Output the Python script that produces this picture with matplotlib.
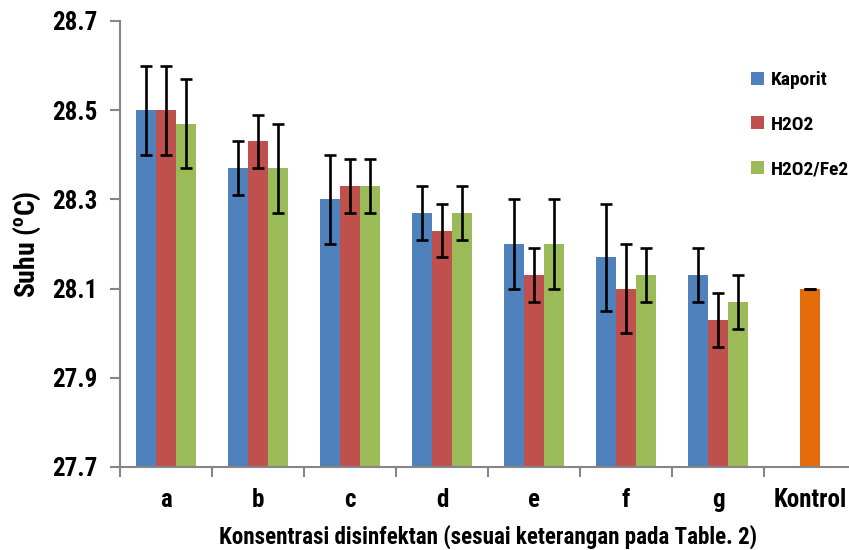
import matplotlib
matplotlib.use("Agg")
import matplotlib.pyplot as plt
import numpy as np
from matplotlib import font_manager

categories = ["a", "b", "c", "d", "e", "f", "g", "Kontrol"]
series_names = ["Kaporit", "H2O2", "H2O2/Fe2"]
kaporit = [28.50, 28.37, 28.30, 28.27, 28.20, 28.17, 28.13]
kaporit_err = [0.10, 0.06, 0.10, 0.06, 0.10, 0.12, 0.06]
h2o2 = [28.50, 28.43, 28.33, 28.23, 28.13, 28.10, 28.03]
h2o2_err = [0.10, 0.06, 0.06, 0.06, 0.06, 0.10, 0.06]
fe2 = [28.47, 28.37, 28.33, 28.27, 28.20, 28.13, 28.07]
fe2_err = [0.10, 0.10, 0.06, 0.06, 0.10, 0.06, 0.06]
kontrol = 28.10
kontrol_err = 0.0
yticks = [27.7, 27.9, 28.1, 28.3, 28.5, 28.7]

names = {f.name for f in font_manager.fontManager.ttflist}
fam = "Roboto Condensed" if "Roboto Condensed" in names else "DejaVu Sans"
plt.rcParams["font.family"] = [fam, "DejaVu Sans"]
plt.rcParams["font.stretch"] = "condensed"
plt.rcParams["mathtext.default"] = "regular"

colors = ["#4F81BD", "#C0504D", "#9BBB59"]
orange = "#E46C0A"
axis_col = "#868686"

fig = plt.figure(figsize=(8.49, 5.5), dpi=100)
ax = fig.add_axes([120/849, 1-467/550, 736/849, 446/550])

x = np.arange(7)
w = 0.22
ekw = dict(elinewidth=1.9, capthick=1.9, capsize=4.3, ecolor="black")
for i, (vals, errs) in enumerate([(kaporit, kaporit_err), (h2o2, h2o2_err), (fe2, fe2_err)]):
    ax.bar(x + (i-1)*w, np.array(vals) - 27.7, w, bottom=27.7, color=colors[i],
           label=series_names[i], yerr=errs, error_kw=ekw, zorder=2)
ax.bar([7], [kontrol - 27.7], w, bottom=27.7, color=orange, yerr=[kontrol_err],
       error_kw=ekw, zorder=2)

ax.set_xlim(-0.5, 7.5)
ax.set_ylim(27.7, 28.7)
ax.set_yticks(yticks)
ax.set_yticklabels([f"{v:.1f}" for v in yticks], fontsize=18, fontweight="bold")
ax.set_xticks(np.arange(8))
ax.set_xticklabels(categories, fontsize=18, fontweight="bold")
ax.set_xticks(np.arange(9) - 0.5, minor=True)
ax.tick_params(axis="x", which="major", length=0, pad=15)
ax.tick_params(axis="x", which="minor", length=7, width=1.5, color=axis_col, direction="out")
ax.tick_params(axis="y", length=7, width=1.5, color=axis_col, direction="out", pad=9)
for s in ["top", "right"]:
    ax.spines[s].set_visible(False)
for s in ["left", "bottom"]:
    ax.spines[s].set_color(axis_col)
    ax.spines[s].set_linewidth(1.5)

ax.set_ylabel("Suhu ($^{o}$C)", fontsize=20, fontweight="bold")
ax.yaxis.set_label_coords((43-120)/736, 0.5)
ax.set_xlabel("Konsentrasi disinfektan (sesuai keterangan pada Table. 2)", fontsize=16.6,
              fontweight="bold")
ax.xaxis.set_label_coords((488-120)/736, -(537-467)/446)
ax.xaxis.label.set_va("center")

leg = ax.legend(loc="upper left", bbox_to_anchor=((751-120)/736, 1-(71-21)/446), frameon=False,
                prop={"size": 14, "weight": "bold"}, handlelength=0.65, handleheight=0.65,
                handletextpad=0.35, labelspacing=1.37, borderaxespad=0, borderpad=0)

fig.savefig("out.png", dpi=100)
